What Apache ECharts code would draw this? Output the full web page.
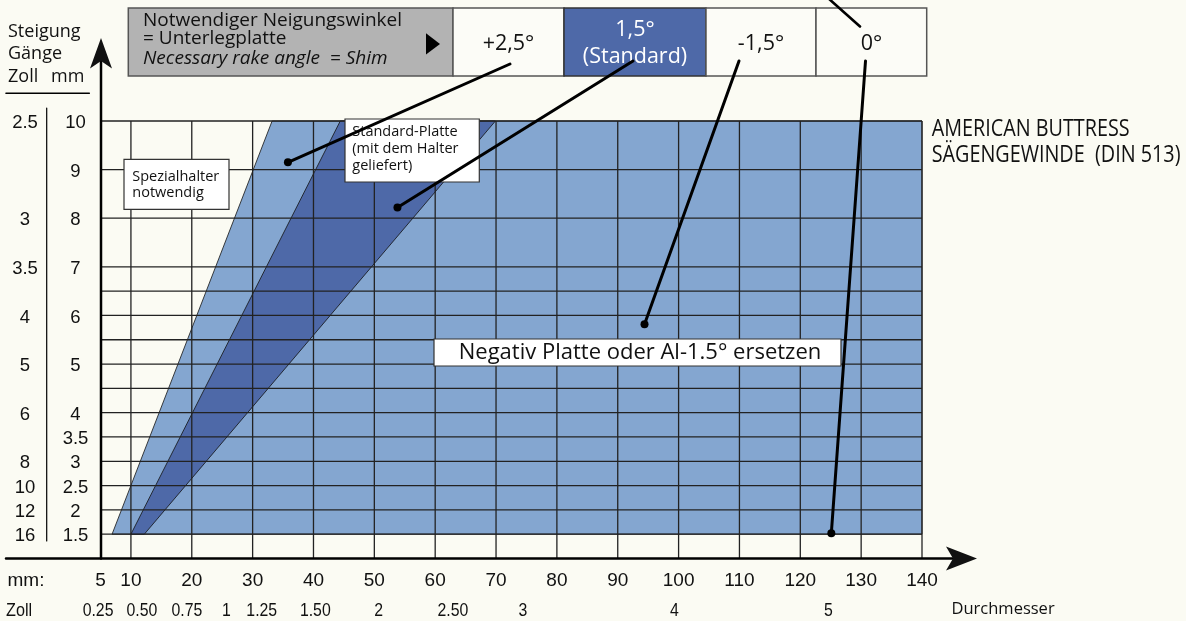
<!DOCTYPE html>
<html><head><meta charset="utf-8">
<script src="https://cdn.jsdelivr.net/npm/echarts@6/dist/echarts.min.js"></script>
<style>html,body{margin:0;padding:0;background:#fbfbf3;}#c{width:1186px;height:621px;}</style>
</head><body><div id="c"></div>
<script>
// ---- data ----
const diameterMin = 5, diameterMax = 140;          // mm
const pitchAxisMin = 1, pitchAxisMax = 10;         // mm
const mmTickValues = [5, 10, 20, 30, 40, 50, 60, 70, 80, 90, 100, 110, 120, 130, 140];
const verticalGridMm = [10, 20, 30, 40, 50, 60, 70, 80, 90, 100, 110, 120, 130, 140];
const horizontalGridPitch = [10, 9, 8, 7, 6.5, 6, 5.5, 5, 4.5, 4, 3.5, 3, 2.5, 2, 1.5];
const pitchLabelValues = [10, 9, 8, 7, 6, 5, 4, 3.5, 3, 2.5, 2, 1.5];
const tpiLabelPitch = [10, 8, 7, 6, 5, 4, 3, 2.5, 2, 1.5];
const tpiLabels = ['2.5', '3', '3.5', '4', '5', '6', '8', '10', '12', '16'];
const inchLabels = ['0.25', '0.50', '0.75', '1', '1.25', '1.50', '2', '2.50', '3', '4', '5'];
const inchLabelMm = [4.6, 11.8, 19.2, 25.7, 31.5, 40.3, 50.7, 62.9, 74.4, 99.3, 124.6];
const zoneBottomPitch = 1.5, zoneTopPitch = 10;
const specialHolderEdge = [6.9, 33.2];   // diameter at bottom / top pitch
const standardLeftEdge = [10, 44.4];
const standardRightEdge = [12.2, 69.9];
const leaderDots = [[35.8, 9.15], [53.8, 8.22], [94.4, 5.82], [125.1, 1.52]];
const leaderHeads = [[510, 64], [633, 61], [739, 61], [865.5, 61]];

const LIGHT = '#84a6d0', DARK = '#4e69a8', BG = '#fbfbf3';
const SANS = '"Open Sans","Noto Sans",sans-serif';
const HELV = '"Liberation Sans",Arial,sans-serif';

const chart = echarts.init(document.getElementById('c'), null, {renderer: 'canvas'});

const option = {
  backgroundColor: BG,
  animation: false,
  grid: {left: 100.5, right: 264, top: 121, bottom: 62.5, containLabel: false},
  xAxis: {type: 'value', min: diameterMin, max: diameterMax, show: false},
  yAxis: {type: 'value', min: pitchAxisMin, max: pitchAxisMax, show: false},
  series: [
    { // zones
      type: 'custom', z: 2, silent: true, data: [[diameterMin, pitchAxisMin]],
      renderItem(params, api) {
        const P = (x, y) => api.coord([x, y]);
        const light = [P(specialHolderEdge[0], zoneBottomPitch), P(specialHolderEdge[1], zoneTopPitch),
                       P(diameterMax, zoneTopPitch), P(diameterMax, zoneBottomPitch)];
        const dark = [P(standardLeftEdge[0], zoneBottomPitch), P(standardLeftEdge[1], zoneTopPitch),
                      P(standardRightEdge[1], zoneTopPitch), P(standardRightEdge[0], zoneBottomPitch)];
        return {type: 'group', children: [
          {type: 'polygon', shape: {points: light}, style: {fill: LIGHT, stroke: '#111', lineWidth: 0.8}},
          {type: 'polygon', shape: {points: dark}, style: {fill: DARK, stroke: '#111', lineWidth: 0.8}}
        ]};
      }
    },
    { // grid lines
      type: 'custom', z: 3, silent: true, data: [[diameterMin, pitchAxisMin]],
      renderItem(params, api) {
        const ch = [];
        verticalGridMm.forEach(v => {
          const a = api.coord([v, pitchAxisMin]), b = api.coord([v, pitchAxisMax]);
          ch.push({type: 'line', shape: {x1: a[0], y1: a[1], x2: b[0], y2: b[1]}, style: {stroke: '#222', lineWidth: 1.3}});
        });
        horizontalGridPitch.forEach(p => {
          const a = api.coord([diameterMin, p]), b = api.coord([diameterMax, p]);
          ch.push({type: 'line', shape: {x1: a[0], y1: a[1], x2: b[0], y2: b[1]}, style: {stroke: '#222', lineWidth: 1.3}});
        });
        return {type: 'group', children: ch};
      }
    },
    { // axis labels
      type: 'custom', z: 4, silent: true, data: [[diameterMin, pitchAxisMin]],
      renderItem(params, api) {
        const ch = [];
        pitchLabelValues.forEach(p => {
          const y = api.coord([diameterMin, p])[1];
          ch.push({type: 'text', x: 75.5, y: y + 2, style: {text: String(p), fill: '#111', fontSize: 18.5, fontFamily: HELV, align: 'center', verticalAlign: 'middle'}});
        });
        tpiLabelPitch.forEach((p, i) => {
          const y = api.coord([diameterMin, p])[1];
          ch.push({type: 'text', x: 25, y: y + 2, style: {text: tpiLabels[i], fill: '#111', fontSize: 18.5, fontFamily: HELV, align: 'center', verticalAlign: 'middle'}});
        });
        mmTickValues.forEach(v => {
          const x = api.coord([v, pitchAxisMin])[0];
          ch.push({type: 'text', x: x, y: 581, style: {text: String(v), fill: '#111', fontSize: 19, fontFamily: HELV, align: 'center', verticalAlign: 'middle'}});
        });
        inchLabelMm.forEach((v, i) => {
          const x = api.coord([v, pitchAxisMin])[0];
          ch.push({type: 'text', x: x, y: 611, scaleX: 0.88, style: {text: inchLabels[i], fill: '#111', fontSize: 18, fontFamily: HELV, align: 'center', verticalAlign: 'middle'}});
        });
        return {type: 'group', children: ch};
      }
    }
  ]
};
chart.setOption(option);

const dots = leaderDots.map(d => chart.convertToPixel({gridIndex: 0}, d));

function T(x, y, text, o) {
  o = o || {};
  return {type: 'text', x: x, y: y, z: o.z || 12, scaleX: o.scaleX || 1,
    style: {text: text, fill: o.fill || '#111', fontSize: o.size || 16, fontFamily: o.family || SANS,
      fontStyle: o.italic ? 'italic' : 'normal', align: o.align || 'left', verticalAlign: 'middle'}};
}
function R(x, y, w, h, fill, stroke, lw, z) {
  return {type: 'rect', z: z || 10, shape: {x: x, y: y, width: w, height: h}, style: {fill: fill, stroke: stroke, lineWidth: lw}};
}
function L(x1, y1, x2, y2, lw, z) {
  return {type: 'line', z: z || 11, shape: {x1: x1, y1: y1, x2: x2, y2: y2}, style: {stroke: '#000', lineWidth: lw, lineCap: 'round'}};
}

const g = [];
// axes
g.push(L(6, 558.5, 955, 558.5, 2.5, 9));
g.push({type: 'polygon', z: 9, shape: {points: [[977, 558.5], [946, 546.5], [953, 558.5], [946, 570.5]]}, style: {fill: '#111'}});
g.push(L(101, 558.5, 101, 60, 2.5, 9));
g.push({type: 'polygon', z: 9, shape: {points: [[101, 38], [90, 68.5], [101, 61], [112, 68.5]]}, style: {fill: '#111'}});
// left header
g.push(T(8, 32, 'Steigung', {size: 18}));
g.push(T(8, 54, 'Gänge', {size: 18}));
g.push(T(8, 77, 'Zoll', {size: 18}));
g.push(T(51, 77, 'mm', {size: 18}));
g.push(L(6, 93.3, 89.3, 93.3, 1.6, 9));
g.push(L(46.7, 108, 46.7, 541, 1.2, 9));
// bottom labels
g.push(T(7.5, 581, 'mm:', {size: 19, family: HELV}));
g.push(T(6, 611, 'Zoll', {size: 18, family: HELV, scaleX: 0.9}));
g.push(T(951.5, 609, 'Durchmesser', {size: 16.5}));
// title on right
g.push(T(931.7, 129.5, 'AMERICAN BUTTRESS', {size: 23, scaleX: 0.86}));
g.push(T(931.7, 155.5, 'SÄGENGEWINDE  (DIN 513)', {size: 23, scaleX: 0.86}));
// header table
g.push(R(128.3, 8, 324.7, 68, '#b3b3b3', '#555', 1.5));
g.push(T(143, 20.5, 'Notwendiger Neigungswinkel', {size: 19}));
g.push(T(143, 39, '= Unterlegplatte', {size: 19}));
g.push(T(143, 59, 'Necessary rake angle  = Shim', {size: 19, italic: true}));
g.push({type: 'polygon', z: 12, shape: {points: [[426, 33.3], [440, 44], [426, 54.5]]}, style: {fill: '#000'}});
g.push(R(453, 8, 111, 68, '#fcfcf7', '#555', 1.5));
g.push(R(564, 8, 142, 68, DARK, '#333', 1.5));
g.push(R(706, 8, 110, 68, '#fcfcf7', '#555', 1.5));
g.push(R(816, 8, 110.7, 68, '#fcfcf7', '#555', 1.5));
g.push(T(508.5, 43.5, '+2,5°', {size: 21.5, align: 'center'}));
g.push(T(635, 30, '1,5°', {size: 21.5, align: 'center', fill: '#fff'}));
g.push(T(635, 57, '(Standard)', {size: 21.5, align: 'center', fill: '#fff'}));
g.push(T(761, 43.5, '-1,5°', {size: 21.5, align: 'center'}));
g.push(T(871.5, 43.5, '0°', {size: 21.5, align: 'center'}));
// text boxes
g.push(R(124, 159.3, 105, 50, '#fff', '#333', 1.2));
g.push(T(132.3, 176.5, 'Spezialhalter', {size: 14.5}));
g.push(T(132.3, 193, 'notwendig', {size: 14.5}));
g.push(R(345, 119, 134.3, 63, '#fff', '#333', 1.2));
g.push(T(352.3, 131.5, 'Standard-Platte', {size: 14.5}));
g.push(T(352.3, 148.5, '(mit dem Halter', {size: 14.5}));
g.push(T(352.3, 165.5, 'geliefert)', {size: 14.5}));
g.push(R(434, 339, 407, 27, '#fff', '#333', 1.2));
g.push(T(640, 352.5, 'Negativ Platte oder Al-1.5° ersetzen', {size: 22, align: 'center'}));
// leader lines
leaderHeads.forEach((h, i) => {
  const d = dots[i];
  g.push(L(h[0], h[1], d[0], d[1], 3, 20));
  g.push({type: 'circle', z: 21, shape: {cx: d[0], cy: d[1], r: 4}, style: {fill: '#000'}});
});
g.push(L(828, -2, 860, 26.5, 2.6, 20));

chart.setOption({graphic: {elements: g}});
</script></body></html>
